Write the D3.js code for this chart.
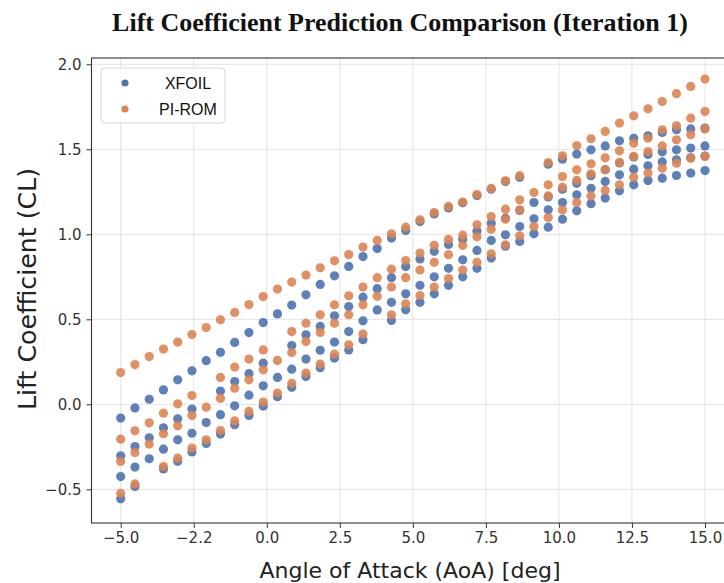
<!DOCTYPE html>
<html><head><meta charset="utf-8">
<script src="https://cdn.jsdelivr.net/npm/d3@7"></script>
<style>body{margin:0;background:#fff}</style>
</head><body><svg id="c" width="724" height="583"></svg>
<script>
// ---- data ----
const aoa = [-5, -4.512, -4.024, -3.537, -3.049, -2.561, -2.073, -1.585, -1.098, -0.610, -0.122, 0.366, 0.854, 1.341, 1.829, 2.317, 2.805, 3.293, 3.780, 4.268, 4.756, 5.244, 5.732, 6.220, 6.707, 7.195, 7.683, 8.171, 8.659, 9.146, 9.634, 10.122, 10.610, 11.098, 11.585, 12.073, 12.561, 13.049, 13.537, 14.024, 14.512, 15];

const xfoil1 = [-0.081, -0.021, 0.030, 0.085, 0.144, 0.197, 0.257, 0.306, 0.364, 0.422, 0.481, 0.532, 0.584, 0.644, 0.705, 0.756, 0.811, 0.869, 0.916, 0.978, 1.022, 1.075, 1.12, 1.155, 1.185, 1.228, 1.265, 1.31, 1.335, null, 1.412, 1.442, 1.472, 1.497, 1.52, 1.55, 1.565, 1.579, 1.599, 1.615, 1.62, 1.625];
const xfoil2 = [-0.303, -0.248, -0.197, -0.138, -0.085, -0.028, null, 0.078, 0.134, 0.18, 0.242, null, 0.346, 0.409, 0.458, 0.521, 0.575, 0.63, 0.68, 0.745, 0.81, 0.855, 0.9, 0.94, 0.971, 1.02, 1.065, 1.095, 1.14, 1.187, 1.22, 1.265, 1.30, 1.345, 1.38, 1.42, 1.455, 1.47, 1.485, 1.497, 1.507, 1.52];
const xfoil3 = [-0.425, -0.369, -0.320, -0.264, -0.209, -0.170, -0.107, -0.061, -0.009, 0.054, 0.109, 0.158, 0.207, 0.266, 0.318, 0.366, 0.428, 0.491, 0.555, 0.6, 0.65, 0.70, 0.75, 0.80, 0.85, 0.905, 0.964, 0.997, 1.046, 1.091, 1.144, 1.187, 1.232, 1.271, 1.311, 1.35, 1.383, 1.403, 1.426, 1.438, 1.45, 1.46];
const xfoil4 = [-0.556, -0.483, null, -0.38, -0.335, -0.28, -0.23, -0.175, -0.12, -0.065, -0.01, 0.045, 0.10, 0.163, 0.215, 0.272, 0.32, 0.38, null, 0.493, 0.556, 0.60, 0.65, 0.70, 0.75, 0.80, 0.86, 0.93, 0.958, 1.003, 1.042, 1.089, 1.138, 1.18, 1.213, 1.256, 1.291, 1.316, 1.33, 1.346, 1.36, 1.375];

const pirom1 = [0.187, 0.234, 0.281, 0.325, 0.366, 0.41, 0.452, 0.497, 0.54, 0.587, 0.634, 0.678, 0.719, 0.76, 0.803, 0.844, 0.881, 0.925, 0.964, 1.003, 1.042, 1.085, 1.128, 1.164, 1.19, 1.234, 1.27, 1.315, 1.345, null, 1.422, 1.462, 1.522, 1.562, 1.605, 1.654, 1.697, 1.738, 1.781, 1.827, 1.87, 1.913];
const pirom2 = [-0.205, -0.156, -0.109, -0.052, 0.003, 0.052, null, 0.158, 0.219, 0.266, 0.32, null, 0.428, 0.477, 0.527, 0.585, 0.638, 0.69, 0.745, 0.795, 0.846, 0.89, 0.935, 0.97, 0.995, 1.056, 1.104, 1.148, 1.203, 1.246, 1.291, 1.34, 1.379, 1.415, 1.45, 1.491, 1.536, 1.565, 1.615, 1.638, 1.683, 1.722];
const pirom3 = [-0.336, -0.283, -0.234, -0.173, -0.126, -0.066, -0.017, 0.035, 0.095, 0.144, 0.203, 0.258, 0.305, 0.369, 0.423, 0.477, 0.527, 0.585, 0.635, 0.69, 0.745, 0.79, 0.835, 0.88, 0.935, 0.985, 1.03, 1.089, 1.144, null, 1.226, 1.277, 1.317, 1.356, 1.379, 1.422, 1.458, 1.487, 1.52, 1.556, 1.585, 1.62];
const pirom4 = [-0.523, -0.468, null, -0.366, -0.317, -0.257, -0.209, -0.154, -0.097, -0.042, 0.013, 0.066, 0.124, 0.184, 0.237, 0.295, 0.35, 0.413, null, 0.527, 0.591, 0.64, 0.69, 0.74, 0.79, 0.835, 0.885, 0.938, 0.991, 1.046, 1.099, 1.144, 1.187, 1.226, 1.258, 1.291, 1.336, 1.36, 1.389, 1.418, 1.448, 1.458];

const xTickValues = [-5, -2.5, 0, 2.5, 5, 7.5, 10, 12.5, 15];
const xTickLabels = ["\u22125.0", "\u22122.2", "0.0", "2.5", "5.0", "7.5", "10.0", "12.5", "15.0"];
const yTickValues = [-0.5, 0, 0.5, 1.0, 1.5, 2.0];
const yTickLabels = ["\u22120.5", "0.0", "0.5", "1.0", "1.5", "2.0"];

const seriesNames = ["XFOIL", "PI-ROM"];
const seriesColors = ["#4c72b0", "#dd8452"];

// ---- layout ----
const svg = d3.select('#c');
const M = {left: 91.5, right: 734.2, top: 58, bottom: 523};
const x = d3.scaleLinear().domain([-6, 16]).range([M.left, M.right]);
const y = d3.scaleLinear().domain([-0.698, 2.037]).range([M.bottom, M.top]);

function fitText(sel, target) {
  const len = sel.node().getComputedTextLength();
  const fs = parseFloat(sel.attr('font-size'));
  sel.attr('font-size', fs * target / len);
}

// grid
const grid = svg.append('g');
grid.selectAll('line.vx').data(xTickValues).join('line')
  .attr('x1', d => x(d)).attr('x2', d => x(d))
  .attr('y1', M.top).attr('y2', M.bottom)
  .attr('stroke', '#e3e3e3').attr('stroke-width', 1);
grid.selectAll('line.hy').data(yTickValues).join('line')
  .attr('y1', d => y(d)).attr('y2', d => y(d))
  .attr('x1', M.left).attr('x2', M.right)
  .attr('stroke', '#e3e3e3').attr('stroke-width', 1);

// points
const xfoilSets = [xfoil1, xfoil2, xfoil3, xfoil4];
const piromSets = [pirom1, pirom2, pirom3, pirom4];
function pts(sets) {
  const out = [];
  sets.forEach(s => s.forEach((v, i) => { if (v !== null) out.push([aoa[i], v]); }));
  return out;
}
const pg = svg.append('g');
[pts(xfoilSets), pts(piromSets)].forEach((data, si) => {
  pg.append('g').selectAll('circle').data(data).join('circle')
    .attr('cx', d => x(d[0])).attr('cy', d => y(d[1])).attr('r', 4.6)
    .attr('fill', seriesColors[si]).attr('fill-opacity', 0.9);
});

// axes
const xAxis = d3.axisBottom(x).tickValues(xTickValues)
  .tickFormat((d, i) => xTickLabels[i]).tickSize(5).tickPadding(4);
const gx = svg.append('g').attr('transform', `translate(0,${M.bottom})`).call(xAxis);
const yAxis = d3.axisLeft(y).tickValues(yTickValues)
  .tickFormat((d, i) => yTickLabels[i]).tickSize(5).tickPadding(5);
const gy = svg.append('g').attr('transform', `translate(${M.left},0)`).call(yAxis);
[gx, gy].forEach(g => {
  g.select('.domain').remove();
  g.selectAll('.tick line').attr('stroke', '#333');
  g.selectAll('.tick text').attr('font-family', 'DejaVu Sans').attr('font-size', 15).attr('fill', '#333');
});

// frame
svg.append('rect').attr('x', M.left).attr('y', M.top)
  .attr('width', M.right - M.left).attr('height', M.bottom - M.top)
  .attr('fill', 'none').attr('stroke', '#333').attr('stroke-width', 1.1);

// legend
const lg = svg.append('g');
lg.append('rect').attr('x', 101).attr('y', 68).attr('width', 124).attr('height', 55)
  .attr('rx', 4).attr('fill', '#fff').attr('fill-opacity', 0.85)
  .attr('stroke', '#d6d6d6').attr('stroke-width', 1);
seriesNames.forEach((n, i) => {
  lg.append('circle').attr('cx', 125).attr('cy', 83 + i * 26).attr('r', 3.6).attr('fill', seriesColors[i]);
  lg.append('text').attr('x', 188).attr('y', 83 + i * 26).attr('dy', '0.35em')
    .attr('text-anchor', 'middle').attr('font-family', 'Liberation Sans, Arial, sans-serif')
    .attr('font-size', 16).attr('fill', '#111').text(n);
});

// title & labels
const title = svg.append('text').attr('x', 400).attr('y', 31).attr('text-anchor', 'middle')
  .attr('font-family', 'Liberation Serif, Times New Roman, serif').attr('font-weight', 'bold')
  .attr('font-size', 22).attr('fill', '#111')
  .text('Lift Coefficient Prediction Comparison (Iteration 1)');
fitText(title, 576);

const xl = svg.append('text').attr('x', 410).attr('y', 578).attr('text-anchor', 'middle')
  .attr('font-family', 'DejaVu Sans').attr('font-size', 19).attr('fill', '#222')
  .text('Angle of Attack (AoA) [deg]');
fitText(xl, 301);

const yl = svg.append('text').attr('transform', 'translate(36,289) rotate(-90)')
  .attr('text-anchor', 'middle')
  .attr('font-family', 'DejaVu Sans').attr('font-size', 19).attr('fill', '#222')
  .text('Lift Coefficient (CL)');
fitText(yl, 242);
</script></body></html>
